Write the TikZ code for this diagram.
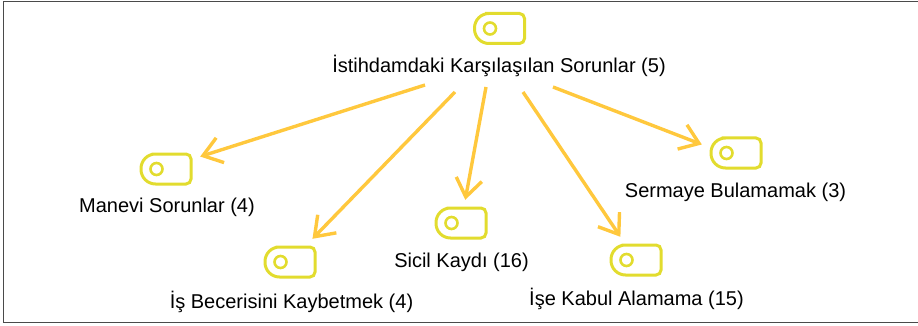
\documentclass[tikz,border=0pt]{standalone}
\usepackage{fontspec}
\setmainfont{Liberation Sans}
\usetikzlibrary{arrows.meta}
\definecolor{iconyellow}{HTML}{E2DC2E}
\definecolor{arrowyellow}{HTML}{FFC83D}
\definecolor{framegray}{HTML}{4A4A4A}
\tikzset{
    iconbox/.style={minimum width=68pt, minimum height=46pt, inner sep=0pt, path picture={
        \begin{scope}[shift={(path picture bounding box.center)}, iconyellow]
            \draw[line width=3pt] (0, -15) [rounded corners=5pt] -- (25, -15) -- (25, 15) [rounded corners=14.5pt] -- (-25, 15) -- (-25, -15) -- cycle;
            \draw[line width=2.6pt] (-9.5, 0) circle[radius=6pt];
        \end{scope}
    }},
    nodelabel/.style={font=\fontsize{20pt}{23pt}\selectfont, inner sep=0pt},
    linkarrow/.style={-{Straight Barb[length=18pt, width=26pt, line width=3.4pt]}, arrowyellow, line width=3.4pt}
}
\begin{document}
\begin{tikzpicture}[x=1pt, y=-1pt]
    \useasboundingbox (0, 0) rectangle (918, 326);
    \draw[framegray, line width=1.5pt] (918, 1.5) -- (3.5, 1.5) -- (3.5, 322.5) -- (918, 322.5);

    \node[iconbox] (sorunlar) at (499.5, 28.5) {};
    \node[iconbox] (manevi) at (166, 169) {};
    \node[iconbox] (beceri) at (290, 262) {};
    \node[iconbox] (sicil) at (461, 223) {};
    \node[iconbox] (kabul) at (636, 260) {};
    \node[iconbox] (sermaye) at (736, 153) {};

    \node[nodelabel] (sorunlartext) at (499, 66) {İstihdamdaki Karşılaşılan Sorunlar (5)};
    \node[nodelabel] (manevitext) at (167, 207) {Manevi Sorunlar (4)};
    \node[nodelabel] (becerisitext) at (291.5, 302) {İş Becerisini Kaybetmek (4)};
    \node[nodelabel] (siciltext) at (461.5, 262) {Sicil Kaydı (16)};
    \node[nodelabel] (kabultext) at (636.5, 299) {İşe Kabul Alamama (15)};
    \node[nodelabel] (sermayetext) at (735.5, 192) {Sermaye Bulamamak (3)};

    \coordinate (manevistart) at (425, 85);
    \coordinate (beceristart) at (455, 92);
    \coordinate (sicilstart) at (486, 87);
    \coordinate (kabulstart) at (523, 92);
    \coordinate (sermayestart) at (553, 87);

    \draw[linkarrow] (manevistart) to (manevi.20);
    \draw[linkarrow] (beceristart) to (beceri);
    \draw[linkarrow] (sicilstart) to (sicil);
    \draw[linkarrow] (kabulstart) to (kabul);
    \draw[linkarrow] (sermayestart) to (sermaye.166);
\end{tikzpicture}
\end{document}
